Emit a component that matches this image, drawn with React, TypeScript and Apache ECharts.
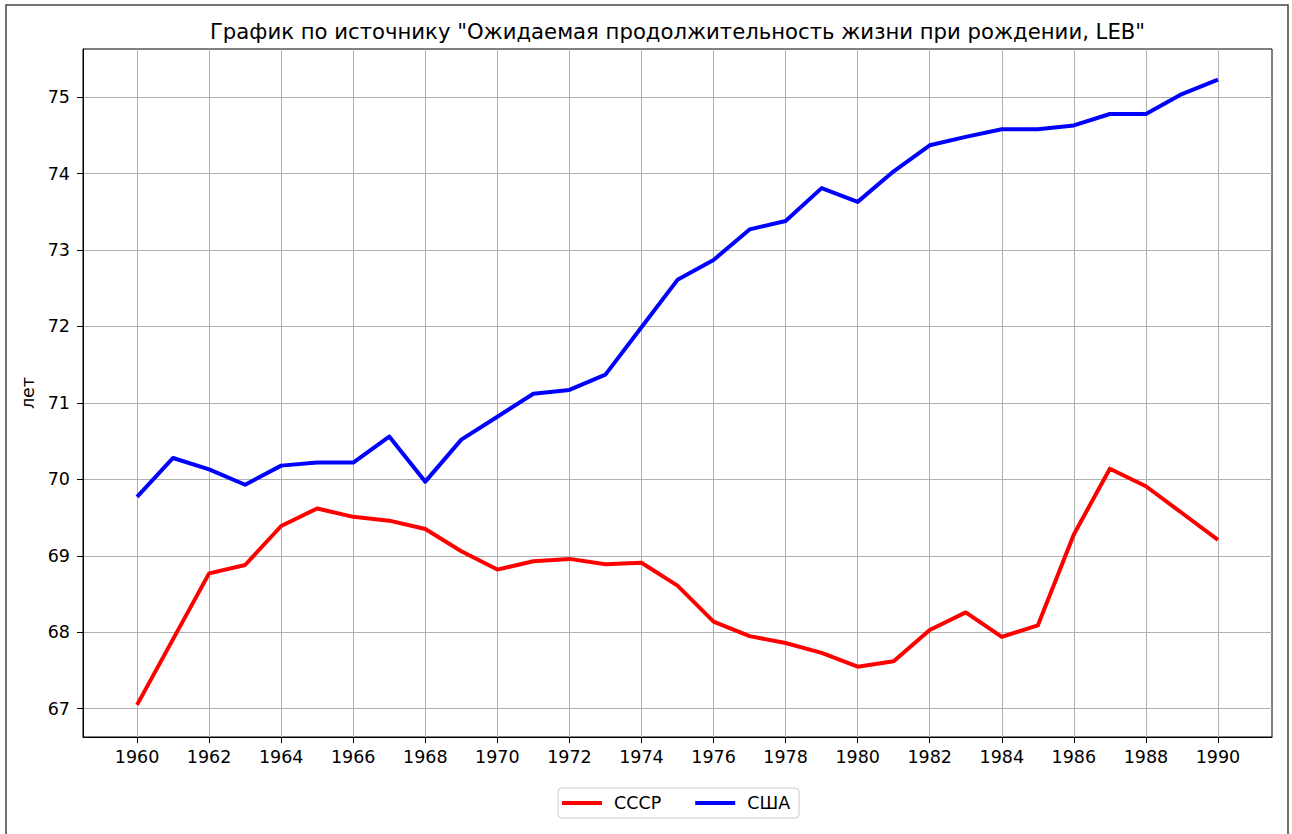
import React, { useEffect, useRef } from "react";
import * as echarts from "echarts";

const years = [
  1960, 1961, 1962, 1963, 1964, 1965, 1966, 1967, 1968, 1969,
  1970, 1971, 1972, 1973, 1974, 1975, 1976, 1977, 1978, 1979,
  1980, 1981, 1982, 1983, 1984, 1985, 1986, 1987, 1988, 1989, 1990,
];

const ussr = [
  67.05, 67.91, 68.77, 68.88, 69.39, 69.62, 69.51, 69.46, 69.35, 69.06,
  68.82, 68.93, 68.96, 68.89, 68.91, 68.61, 68.14, 67.95, 67.86, 67.73,
  67.55, 67.62, 68.03, 68.26, 67.94, 68.09, 69.28, 70.14, 69.91, 69.56, 69.21,
];

const usa = [
  69.77, 70.28, 70.13, 69.93, 70.18, 70.22, 70.22, 70.56, 69.97, 70.52,
  70.82, 71.12, 71.17, 71.37, 71.99, 72.61, 72.87, 73.27, 73.38, 73.81,
  73.63, 74.03, 74.37, 74.48, 74.58, 74.58, 74.63, 74.78, 74.78, 75.04, 75.23,
];

const xTicks = [1960, 1962, 1964, 1966, 1968, 1970, 1972, 1974, 1976, 1978, 1980, 1982, 1984, 1986, 1988, 1990];
const yTicks = [67, 68, 69, 70, 71, 72, 73, 74, 75];

const seriesNames = ["СССР", "США"];
const titleText = 'График по источнику "Ожидаемая продолжительность жизни при рождении, LEB"';
const yName = "лет";

const FONT = "DejaVu Sans";
const TICK_FS = 17.5;

export default function App() {
  const ref = useRef<HTMLDivElement>(null);

  useEffect(() => {
    if (!ref.current) return;
    const chart = echarts.init(ref.current, null, { renderer: "svg" });
    const pairs = (vals: number[]) => years.map((y, i) => [y, vals[i]]);
    chart.setOption({
      animation: false,
      backgroundColor: "#ffffff",
      textStyle: { fontFamily: FONT },
      title: {
        text: titleText,
        left: 677.5,
        top: 21,
        textAlign: "center",
        padding: 0,
        textStyle: { fontFamily: FONT, fontSize: 21.2, fontWeight: "normal", color: "#000" },
      },
      grid: {
        left: 83,
        top: 49,
        right: 20,
        bottom: 97,
        containLabel: false,
        outerBoundsMode: "none",
        show: true,
        borderColor: "#000",
        borderWidth: 1,
        backgroundColor: "transparent",
      },
      legend: {
        data: seriesNames,
        left: 558,
        top: 788,
        orient: "horizontal",
        icon: "rect",
        itemWidth: 40,
        itemHeight: 4,
        itemGap: 34,
        padding: [6, 9, 6, 4],
        borderColor: "#cccccc",
        borderWidth: 1,
        borderRadius: 4,
        backgroundColor: "#fff",
        textStyle: { fontFamily: FONT, fontSize: TICK_FS, color: "#000", padding: [0, 0, 0, 7] },
      },
      xAxis: {
        type: "value",
        min: 1958.5,
        max: 1991.5,
        axisLine: { show: true, lineStyle: { color: "#000", width: 1 } },
        axisTick: {
          show: true,
          customValues: xTicks,
          length: 6,
          inside: false,
          lineStyle: { color: "#000", width: 1 },
        },
        axisLabel: {
          customValues: xTicks,
          fontFamily: FONT,
          fontSize: TICK_FS,
          color: "#000",
          margin: 11,
          formatter: (v: number) => String(v),
        },
        splitLine: { show: true, lineStyle: { color: "#b0b0b0", width: 1 } },
      },
      yAxis: {
        type: "value",
        min: 66.63,
        max: 75.63,
        name: yName,
        nameLocation: "middle",
        nameGap: 41,
        nameRotate: 90,
        nameTextStyle: { fontFamily: FONT, fontSize: TICK_FS, color: "#000" },
        axisLine: { show: true, lineStyle: { color: "#000", width: 1 } },
        axisTick: {
          show: true,
          customValues: yTicks,
          length: 6,
          inside: false,
          lineStyle: { color: "#000", width: 1 },
        },
        axisLabel: {
          customValues: yTicks,
          fontFamily: FONT,
          fontSize: TICK_FS,
          color: "#000",
          margin: 13,
          formatter: (v: number) => String(v),
        },
        splitLine: { show: true, lineStyle: { color: "#b0b0b0", width: 1 } },
      },
      graphic: [
        {
          type: "rect",
          silent: true,
          shape: { x: 6, y: 5, width: 1282, height: 840 },
          style: { fill: "none", stroke: "#444", lineWidth: 1.5 },
        },
      ],
      series: [
        {
          name: seriesNames[0],
          type: "line",
          data: pairs(ussr),
          showSymbol: false,
          symbol: "none",
          lineStyle: { color: "#ff0000", width: 4, join: "round" },
          itemStyle: { color: "#ff0000" },
        },
        {
          name: seriesNames[1],
          type: "line",
          data: pairs(usa),
          showSymbol: false,
          symbol: "none",
          lineStyle: { color: "#0000ff", width: 4, join: "round" },
          itemStyle: { color: "#0000ff" },
        },
      ],
    });
    return () => chart.dispose();
  }, []);

  return (
    <div
      ref={ref}
      style={{ position: "fixed", left: 0, top: 0, width: 1292, height: 834 }}
    />
  );
}
